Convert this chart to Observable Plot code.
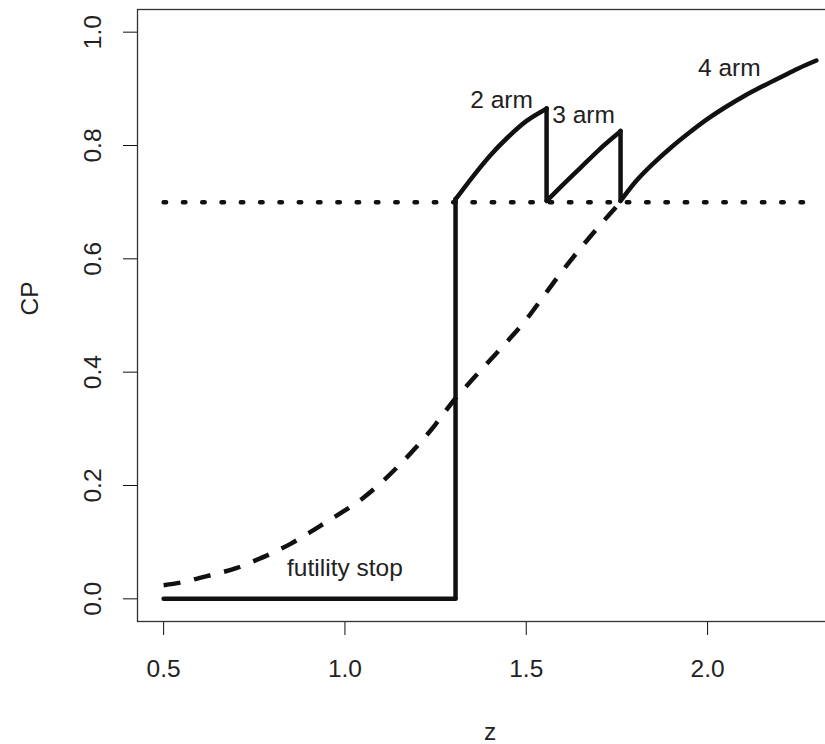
<!DOCTYPE html>
<html>
<head>
<meta charset="utf-8">
<script src="https://cdn.jsdelivr.net/npm/d3@7"></script>
<script src="https://cdn.jsdelivr.net/npm/@observablehq/plot@0.6"></script>
<style>
  html, body { margin: 0; padding: 0; background: white; }
  #wrap { width: 825px; height: 744px; overflow: hidden; }
</style>
</head>
<body>
<div id="wrap"></div>
<script>
// ---- data ----
const xTicks = [0.5, 1.0, 1.5, 2.0];
const yTicks = [0.0, 0.2, 0.4, 0.6, 0.8, 1.0];

// dashed curve (CP without arm dropping)
const dashZ  = [0.5, 0.55, 0.6, 0.65, 0.7, 0.75, 0.8, 0.85, 0.9, 0.95, 1.0, 1.05, 1.1, 1.15, 1.2, 1.25, 1.3, 1.35, 1.4, 1.45, 1.5, 1.55, 1.6, 1.65, 1.7, 1.76];
const dashCP = [0.024, 0.029, 0.037, 0.045, 0.054, 0.067, 0.081, 0.097, 0.116, 0.136, 0.156, 0.178, 0.205, 0.236, 0.270, 0.308, 0.350, 0.386, 0.421, 0.456, 0.493, 0.536, 0.579, 0.619, 0.657, 0.700];

// solid curve segments: futility stop, 2 arm, 3 arm, 4 arm
const segName = ["futility", "2 arm", "3 arm", "4 arm"];
const segZ = [
  [0.5, 1.305],
  [1.305, 1.35, 1.40, 1.45, 1.50, 1.556],
  [1.556, 1.60, 1.65, 1.70, 1.76],
  [1.76, 1.80, 1.85, 1.90, 1.95, 2.00, 2.05, 2.10, 2.15, 2.20, 2.25, 2.30]
];
const segCP = [
  [0.0, 0.0],
  [0.705, 0.743, 0.782, 0.815, 0.843, 0.865],
  [0.702, 0.730, 0.761, 0.792, 0.825],
  [0.702, 0.735, 0.768, 0.797, 0.823, 0.847, 0.868, 0.887, 0.904, 0.920, 0.936, 0.950]
];

// threshold (dotted)
const threshZ = [0.5, 2.3];
const threshCP = 0.7;

// annotations
const labelText = ["2 arm", "3 arm", "4 arm", "futility stop"];
const labelZ    = [1.432, 1.658, 2.060, 1.0];
const labelCP   = [0.880, 0.854, 0.937, 0.054];

// ---- build tables ----
const dash = dashZ.map((z, i) => ({z, cp: dashCP[i]}));
const solid = segZ.flatMap((zs, s) => zs.map((z, i) => ({seg: segName[s], z, cp: segCP[s][i]})));
// vertical jumps between consecutive segments
const jumps = segZ.slice(1).map((zs, s) => ({
  z: zs[0],
  y1: segCP[s][segCP[s].length - 1],
  y2: segCP[s + 1][0]
}));
const thresh = threshZ.map(z => ({z, cp: threshCP}));
const labels = labelText.map((t, i) => ({t, z: labelZ[i], cp: labelCP[i]}));

// R-style 4% axis padding
const allZ = [...dashZ, ...segZ.flat()];
const zMin = d3.min(allZ), zMax = d3.max(allZ);
const zPad = 0.04 * (zMax - zMin);
const yMin = 0, yMax = 1, yPad = 0.04 * (yMax - yMin);

const ink = "#111";
const font = "'Liberation Sans', Arial, sans-serif";

const chart = Plot.plot({
  width: 845,
  height: 744,
  marginLeft: 137,
  marginRight: 3,
  marginTop: 9,
  marginBottom: 123,
  style: {fontFamily: font, fontSize: "24.5px", color: "#222", background: "white", maxWidth: "none"},
  x: {domain: [zMin - zPad, zMax + zPad]},
  y: {domain: [yMin - yPad, yMax + yPad]},
  marks: [
    Plot.axisX({ticks: xTicks, tickSize: 14, tickPadding: 24, tickFormat: d3.format(".1f"), label: null, stroke: ink, fill: "#222"}),
    Plot.axisY({ticks: yTicks, tickSize: 14, tickPadding: 23, tickRotate: -90, tickFormat: d3.format(".1f"), label: null, stroke: ink, fill: "#222"}),
    Plot.text(["z"], {frameAnchor: "bottom", dy: 111, lineAnchor: "middle", fill: "#222"}),
    Plot.text(["CP"], {frameAnchor: "left", dx: -107, rotate: -90, lineAnchor: "middle", fill: "#222"}),
    Plot.line(dash, {x: "z", y: "cp", stroke: ink, strokeWidth: 4.5, strokeDasharray: "17 14", strokeLinecap: "butt", curve: "monotone-x"}),
    Plot.line(thresh, {x: "z", y: "cp", stroke: ink, strokeWidth: 4.5, strokeDasharray: "2.5 16.8", strokeLinecap: "round"}),
    Plot.line(solid, {x: "z", y: "cp", z: "seg", stroke: ink, strokeWidth: 4.5, strokeLinecap: "round", strokeLinejoin: "round", curve: "monotone-x"}),
    Plot.ruleX(jumps, {x: "z", y1: "y1", y2: "y2", stroke: ink, strokeWidth: 4.5, strokeLinecap: "round"}),
    Plot.text(labels, {x: "z", y: "cp", text: "t", lineAnchor: "middle", textAnchor: "middle", fill: "#222"}),
    Plot.frame({stroke: "#333", strokeWidth: 1.3})
  ]
});
document.getElementById("wrap").appendChild(chart);
</script>
</body>
</html>
